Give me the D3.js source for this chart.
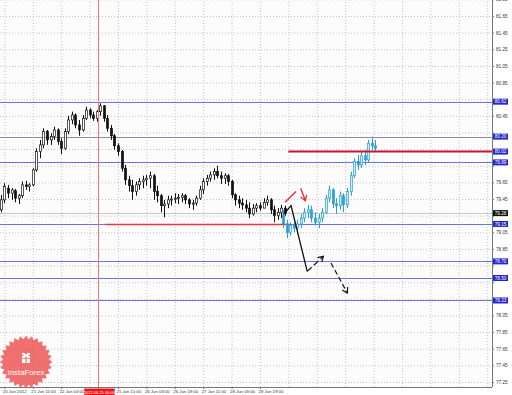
<!DOCTYPE html>
<html><head><meta charset="utf-8">
<script src="https://cdn.jsdelivr.net/npm/d3@7"></script>
<style>body{margin:0;background:#fff}svg{display:block}text{font-family:"Liberation Sans",Arial,sans-serif}</style>
</head><body><svg id="c" width="512" height="395"></svg>
<script>
// ---- DATA ----
// hour index 0 = 20 Jun 19:00 (H1 bars, weekend removed); 2-hour candles
const tickHours = [0,16,32,64,80,96,112,128,144];
const tickLabels = ["20 Jun 2012","21 Jun 11:00","22 Jun 03:00","25 Jun 11:00","26 Jun 03:00","26 Jun 19:00","27 Jun 11:00","28 Jun 03:00","28 Jun 19:00"];
const gridHours = [0,16,32,48,64,80,96,112,128,144,160,176,192,208,224,240,256,272];
const priceTicks = [77.25,77.45,77.65,77.85,78.05,78.25,78.45,78.65,78.85,79.05,79.25,79.45,79.65,79.85,80.05,80.25,80.45,80.65,80.85,81.05,81.25,81.45,81.65,81.85];
const vlineHour = 52; const vlineLabel = "2012.06.25 00:00";
const blackStartHour = -2, blueStartHour = 157, barStep = 2;
// [open, high, low, close]
const blackOHLC = [
[79.32,79.50,79.29,79.44],[79.44,79.64,79.40,79.60],[79.58,79.62,79.46,79.52],[79.52,79.58,79.44,79.56],
[79.55,79.57,79.41,79.46],[79.46,79.51,79.39,79.49],[79.49,79.66,79.46,79.62],[79.62,79.67,79.56,79.60],
[79.60,79.64,79.54,79.62],[79.62,79.82,79.60,79.80],[79.80,80.06,79.78,80.02],[80.02,80.16,79.94,80.10],
[80.10,80.30,80.06,80.26],[80.26,80.28,80.10,80.16],[80.16,80.24,80.10,80.20],[80.20,80.32,80.16,80.28],
[80.28,80.30,80.10,80.14],[80.14,80.18,79.99,80.06],[80.06,80.30,80.04,80.26],[80.26,80.45,80.23,80.40],
[80.40,80.50,80.35,80.46],[80.46,80.48,80.30,80.34],[80.34,80.40,80.21,80.28],[80.28,80.46,80.26,80.42],
[80.42,80.56,80.40,80.52],[80.52,80.54,80.42,80.46],[80.46,80.50,80.39,80.42],[80.42,80.52,80.38,80.50],
[80.50,80.60,80.45,80.57],[80.57,80.58,80.38,80.42],[80.42,80.46,80.26,80.30],[80.30,80.34,80.16,80.21],
[80.21,80.23,80.04,80.09],[80.09,80.12,79.97,80.02],[80.02,80.04,79.78,79.82],[79.82,79.86,79.62,79.68],
[79.68,79.73,79.54,79.61],[79.61,79.68,79.44,79.54],[79.54,79.66,79.49,79.62],[79.62,79.70,79.56,79.66],
[79.66,79.73,79.58,79.68],[79.68,79.74,79.61,79.70],[79.70,79.78,79.58,79.73],[79.73,79.75,79.44,79.54],
[79.54,79.61,79.41,79.49],[79.49,79.51,79.29,79.37],[79.37,79.44,79.23,79.39],[79.39,79.49,79.34,79.44],
[79.44,79.49,79.37,79.45],[79.45,79.52,79.40,79.46],[79.46,79.51,79.39,79.47],[79.47,79.52,79.41,79.49],
[79.49,79.51,79.39,79.44],[79.44,79.46,79.34,79.39],[79.39,79.44,79.32,79.40],[79.40,79.49,79.37,79.46],
[79.46,79.61,79.44,79.56],[79.56,79.70,79.51,79.66],[79.66,79.74,79.61,79.70],[79.70,79.78,79.66,79.74],
[79.74,79.82,79.68,79.78],[79.78,79.85,79.70,79.73],[79.73,79.78,79.63,79.70],[79.70,79.76,79.63,79.73],
[79.73,79.75,79.61,79.66],[79.66,79.68,79.46,79.50],[79.50,79.52,79.37,79.44],[79.44,79.49,79.34,79.40],
[79.40,79.46,79.32,79.38],[79.38,79.44,79.29,79.34],[79.34,79.41,79.22,79.27],[79.27,79.39,79.25,79.34],
[79.34,79.40,79.29,79.37],[79.37,79.41,79.31,79.34],[79.34,79.46,79.34,79.41],[79.41,79.49,79.37,79.44],
[79.44,79.46,79.27,79.32],[79.32,79.37,79.17,79.25],[79.25,79.34,79.20,79.29],[79.29,79.38,79.22,79.34],
[79.34,79.37,79.25,79.28]];
const blueOHLC = [
[79.26,79.32,79.10,79.15],[79.15,79.20,78.98,79.05],[79.05,79.17,79.01,79.13],[79.13,79.22,79.05,79.10],
[79.10,79.20,79.03,79.15],[79.15,79.27,79.10,79.22],[79.22,79.34,79.17,79.29],[79.29,79.38,79.22,79.32],
[79.32,79.37,79.17,79.22],[79.22,79.29,79.13,79.17],[79.17,79.27,79.10,79.22],[79.22,79.34,79.17,79.29],
[79.29,79.50,79.27,79.46],[79.46,79.61,79.41,79.56],[79.56,79.58,79.34,79.39],[79.39,79.46,79.27,79.37],
[79.37,79.54,79.32,79.49],[79.49,79.52,79.29,79.38],[79.38,79.58,79.34,79.54],[79.54,79.78,79.49,79.73],
[79.73,79.94,79.70,79.90],[79.90,79.98,79.80,79.86],[79.86,80.02,79.82,79.97],[79.97,80.04,79.86,79.92],
[79.92,80.16,79.89,80.12],[80.12,80.20,80.04,80.09],[80.09,80.16,80.02,80.06]];
const blueLevels = [80.62, 79.89, 79.15, 78.70, 78.50, 78.23];
const grayLevel = 80.20;
const currentPrice = 79.28;
const supportLevel = 79.15, supportFrom = 57, supportTo = 161;
const resistLevel = 80.02, resistFrom = 160;
// arrows: [hour, price]
const blackPath = [[157.5,79.27],[161.5,79.37],[170.6,78.58]];
const blackUp = [[170.6,78.58],[179.7,78.76]];
const blackDown = [[184,78.68],[193.2,78.32]];
const redUp = [[158.1,79.41],[164.3,79.54]];
const redDown = [[166.9,79.58],[169.6,79.43]];

// ---- CHART ----
const W = 512, H = 395, plotR = 492, plotB = 387;
const svg = d3.select("#c");
const x = d3.scaleLinear().domain([0,144]).range([4.4,260]);
const y = d3.scaleLinear().domain([77.25,81.65]).range([382,16]);

svg.append("rect").attr("width",W).attr("height",H).attr("fill","#fff");
svg.append("rect").attr("width",plotR).attr("height",plotB).attr("fill","#fcfcfc");

// grid
const gx = svg.append("g").attr("transform",`translate(0,${plotB})`)
  .call(d3.axisBottom(x).tickValues(gridHours).tickSize(-plotB).tickFormat(""));
gx.select(".domain").remove();
gx.selectAll("line").attr("stroke","#c4c4c4").attr("stroke-dasharray","1,2");
const gy = svg.append("g")
  .call(d3.axisRight(y).tickValues(priceTicks).tickSize(plotR).tickFormat(""));
gy.select(".domain").remove();
gy.selectAll("line").attr("stroke","#c4c4c4").attr("stroke-dasharray","1,2");

const clip = svg.append("defs").append("clipPath").attr("id","pc");
clip.append("rect").attr("width",plotR).attr("height",plotB);
const plot = svg.append("g").attr("clip-path","url(#pc)");

// level lines
plot.selectAll(".bl").data(blueLevels).join("line")
  .attr("x1",0).attr("x2",plotR).attr("y1",d=>Math.round(y(d))+0.5).attr("y2",d=>Math.round(y(d))+0.5)
  .attr("stroke","#6f6fe8").attr("stroke-width",1);
plot.append("line").attr("x1",0).attr("x2",plotR)
  .attr("y1",Math.round(y(grayLevel))+0.5).attr("y2",Math.round(y(grayLevel))+0.5)
  .attr("stroke","#8a8aa6").attr("stroke-width",1);
plot.append("line").attr("x1",0).attr("x2",plotR)
  .attr("y1",Math.round(y(currentPrice))+0.5).attr("y2",Math.round(y(currentPrice))+0.5)
  .attr("stroke","#c8c8c8").attr("stroke-width",1);

// vertical line
const vxl = Math.round(x(vlineHour))+1.5;
svg.append("line").attr("x1",vxl).attr("x2",vxl)
  .attr("y1",0).attr("y2",H).attr("stroke","#f27676").attr("stroke-width",1);

// support / resistance
plot.append("line").attr("x1",x(supportFrom)).attr("x2",x(supportTo))
  .attr("y1",y(supportLevel)+0.5).attr("y2",y(supportLevel)+0.5)
  .attr("stroke","#e23a3a").attr("stroke-width",1.4);

// candles
function drawCandles(data, start, stroke, upFill, downFill, cls){
  const g = plot.append("g");
  const c = g.selectAll("g."+cls).data(data).join("g").attr("class",cls)
    .attr("transform",(d,i)=>`translate(${Math.round(x(start+i*barStep))+0.5},0)`);
  c.append("line").attr("y1",d=>y(d[1])).attr("y2",d=>y(d[2])).attr("stroke",stroke).attr("stroke-width",1);
  c.append("rect").attr("x",-1).attr("width",2)
    .attr("y",d=>y(Math.max(d[0],d[3])))
    .attr("height",d=>Math.max(1,Math.abs(y(d[0])-y(d[3]))))
    .attr("fill",d=>d[3]>=d[0]?upFill:downFill).attr("stroke",stroke).attr("stroke-width",0.7);
}
drawCandles(blackOHLC, blackStartHour, "#111", "#ffffff", "#111", "bk");
drawCandles(blueOHLC, blueStartHour, "#2c9fd2", "#c9ecf9", "#2c9fd2", "bu");

// resistance thick
plot.append("line").attr("x1",x(resistFrom)).attr("x2",plotR)
  .attr("y1",y(resistLevel)).attr("y2",y(resistLevel))
  .attr("stroke","#c8143c").attr("stroke-width",2);

// arrows
const ln = d3.line().x(d=>x(d[0])).y(d=>y(d[1]));
function head(p0,p1,color,L){
  const X0=x(p0[0]),Y0=y(p0[1]),X1=x(p1[0]),Y1=y(p1[1]);
  const a=Math.atan2(Y1-Y0,X1-X0), s=0.55;
  const pts=[[X1-L*Math.cos(a-s),Y1-L*Math.sin(a-s)],[X1,Y1],[X1-L*Math.cos(a+s),Y1-L*Math.sin(a+s)]];
  plot.append("path").attr("d",d3.line()(pts)).attr("fill","none").attr("stroke",color).attr("stroke-width",1.2);
}
plot.append("path").attr("d",ln(blackPath)).attr("fill","none").attr("stroke","#111").attr("stroke-width",1.3);
plot.append("path").attr("d",ln(blackUp)).attr("fill","none").attr("stroke","#111").attr("stroke-width",1.2).attr("stroke-dasharray","6,3");
head(blackUp[0],blackUp[1],"#111",6);
plot.append("path").attr("d",ln(blackDown)).attr("fill","none").attr("stroke","#111").attr("stroke-width",1.2).attr("stroke-dasharray","5,3");
head(blackDown[0],blackDown[1],"#111",6);
plot.append("path").attr("d",ln(redUp)).attr("fill","none").attr("stroke","#e5262b").attr("stroke-width",1.3);
plot.append("path").attr("d",ln(redDown)).attr("fill","none").attr("stroke","#e5262b").attr("stroke-width",1.3);
head(redDown[0],redDown[1],"#e5262b",6);

// axes frame
svg.append("line").attr("x1",plotR+0.5).attr("x2",plotR+0.5).attr("y1",0).attr("y2",plotB).attr("stroke","#777");
svg.append("line").attr("x1",0).attr("x2",plotR).attr("y1",plotB+0.5).attr("y2",plotB+0.5).attr("stroke","#777");

// price level boxes (drawn over the axis labels like the terminal does)
const boxLevels = blueLevels.concat([grayLevel, resistLevel, currentPrice]);
const hidden = p => boxLevels.some(b => Math.abs(y(b)-y(p)) < 6.5);

// price axis labels
const ay = svg.append("g").attr("transform",`translate(${plotR},0)`)
  .call(d3.axisRight(y).tickValues(priceTicks).tickSize(2).tickFormat(d3.format(".2f")));
ay.select(".domain").remove();
ay.selectAll("line").attr("stroke","#777");
ay.selectAll("text").attr("x",4).attr("font-size","4.6px").attr("fill","#333").attr("font-family","Liberation Sans, Arial")
  .attr("display",d=>hidden(d)?"none":null);

// time axis labels
const ax = svg.append("g").attr("transform",`translate(0,${plotB})`)
  .call(d3.axisBottom(x).tickValues(tickHours).tickSize(2).tickFormat((d,i)=>tickLabels[i]));
ax.select(".domain").remove();
ax.selectAll("line").attr("stroke","#777");
ax.selectAll("text").attr("text-anchor","start").attr("x",-2).attr("y",3).attr("dy","0.7em")
  .attr("font-size","4.3px").attr("fill","#333").attr("font-family","Liberation Sans, Arial");

// vline label
const vx = x(vlineHour);
svg.append("rect").attr("x",vx-12.5).attr("y",plotB+1.5).attr("width",30.5).attr("height",7).attr("fill","#e8141a");
svg.append("text").attr("x",vx+2.7).attr("y",plotB+6.8).attr("text-anchor","middle")
  .attr("font-size","4px").attr("fill","#fff").text(vlineLabel);

function box(p, fill){
  const yy = y(p);
  svg.append("rect").attr("x",plotR+1).attr("y",yy-3).attr("width",15).attr("height",6).attr("fill",fill);
  svg.append("text").attr("x",plotR+8.5).attr("y",yy).attr("dy","0.35em").attr("text-anchor","middle")
    .attr("font-size","4.6px").attr("fill","#fff").text(d3.format(".2f")(p));
}
blueLevels.concat([grayLevel, resistLevel]).forEach(p=>box(p,"#2626c8"));
box(currentPrice,"#111");

// watermark
const wm = svg.append("g").attr("transform","translate(26,362)").attr("opacity",0.78);
const teeth = 28, pts=[];
for(let i=0;i<teeth*2;i++){const r=i%2?23:26.5; const a=i*Math.PI/teeth; pts.push([Math.cos(a)*r,Math.sin(a)*r]);}
wm.append("path").attr("d",d3.line()(pts)+"Z").attr("fill","#ec4a48");
wm.append("rect").attr("x",-4).attr("y",-6).attr("width",8).attr("height",7).attr("fill","#fff");
wm.append("line").attr("x1",0).attr("x2",0).attr("y1",-6).attr("y2",1).attr("stroke","#ec4a48").attr("stroke-width",1.2);
wm.append("line").attr("x1",-4).attr("x2",4).attr("y1",-3.5).attr("y2",-3.5).attr("stroke","#ec4a48").attr("stroke-width",0.8);
wm.append("path").attr("d","M0,-6 C-3,-11 -6,-8 0,-6 C6,-8 3,-11 0,-6").attr("fill","none").attr("stroke","#fff").attr("stroke-width",1.2);
wm.append("text").attr("x",0).attr("y",13).attr("text-anchor","middle").attr("font-size","7.8px").attr("fill","#fff").text("InstaForex");
</script></body></html>
